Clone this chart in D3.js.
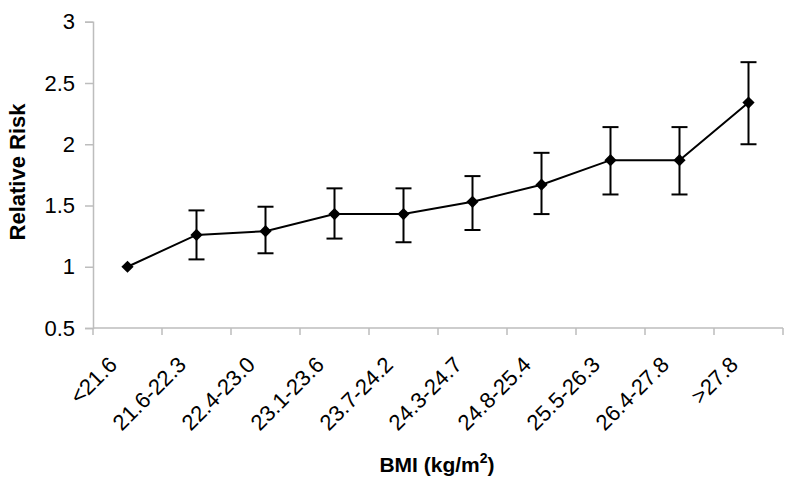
<!DOCTYPE html>
<html>
<head>
<meta charset="utf-8">
<script src="https://cdn.jsdelivr.net/npm/d3@7"></script>
<style>
  html, body { margin: 0; padding: 0; background: #fff; }
  svg { display: block; font-family: "Liberation Sans", Arial, sans-serif; }
</style>
</head>
<body>
<svg id="chart" width="800" height="486"></svg>
<script>
const categories = ["<21.6", "21.6-22.3", "22.4-23.0", "23.1-23.6", "23.7-24.2", "24.3-24.7", "24.8-25.4", "25.5-26.3", "26.4-27.8", ">27.8"];
const relativeRisk = [1.00, 1.26, 1.29, 1.43, 1.43, 1.53, 1.67, 1.87, 1.87, 2.34];
const lowerCI = [1.00, 1.06, 1.11, 1.23, 1.20, 1.30, 1.43, 1.59, 1.59, 2.00];
const upperCI = [1.00, 1.46, 1.49, 1.64, 1.64, 1.74, 1.93, 2.14, 2.14, 2.67];
const yTicks = [0.5, 1, 1.5, 2, 2.5, 3];
const yTitle = "Relative Risk";
const xTitle = "BMI (kg/m";

const svg = d3.select("#chart");
const mLeft = 93, mRight = 783, mTop = 21.75, mBottom = 328;
const axisColor = "#bdbdbd";

const x = d3.scaleBand().domain(categories).range([mLeft, mRight]).padding(0);
const y = d3.scaleLinear().domain([0.5, 3]).range([mBottom, mTop]);
const cx = c => x(c) + x.bandwidth() / 2;

// Y axis
const yAxis = svg.append("g")
  .attr("transform", `translate(${mLeft},0)`)
  .call(d3.axisLeft(y).tickValues(yTicks).tickSize(8).tickPadding(10).tickFormat(d => String(d)));
yAxis.select(".domain").attr("stroke", axisColor).attr("stroke-width", 1.5);
yAxis.selectAll(".tick line").attr("stroke", axisColor).attr("stroke-width", 1.5);
yAxis.selectAll(".tick text").attr("fill", "#000").attr("font-size", 22)
  .attr("font-family", "'Liberation Sans', Arial, sans-serif");

// X axis line
svg.append("line")
  .attr("x1", mLeft).attr("x2", mRight).attr("y1", mBottom).attr("y2", mBottom)
  .attr("stroke", axisColor).attr("stroke-width", 1.5);
// X boundary ticks
const bounds = categories.map(c => x(c)).concat([x(categories[categories.length - 1]) + x.bandwidth()]);
svg.append("g").selectAll("line").data(bounds).join("line")
  .attr("x1", d => d).attr("x2", d => d)
  .attr("y1", mBottom).attr("y2", mBottom + 7)
  .attr("stroke", axisColor).attr("stroke-width", 1.5);
// X labels
svg.append("g").selectAll("text").data(categories).join("text")
  .attr("transform", d => `translate(${cx(d) - 9},${mBottom + 38}) rotate(-45)`)
  .attr("text-anchor", "end")
  .attr("font-size", 22)
  .attr("fill", "#000")
  .text(d => d);

// Error bars
const eb = svg.append("g").attr("stroke", "#000").attr("stroke-width", 2);
categories.forEach((c, i) => {
  if (upperCI[i] === lowerCI[i]) return;
  const xc = cx(c);
  eb.append("line").attr("x1", xc).attr("x2", xc).attr("y1", y(lowerCI[i])).attr("y2", y(upperCI[i]));
  eb.append("line").attr("x1", xc - 8).attr("x2", xc + 8).attr("y1", y(lowerCI[i])).attr("y2", y(lowerCI[i]));
  eb.append("line").attr("x1", xc - 8).attr("x2", xc + 8).attr("y1", y(upperCI[i])).attr("y2", y(upperCI[i]));
});

// Line
const line = d3.line().x((d, i) => cx(categories[i])).y(d => y(d));
svg.append("path").datum(relativeRisk)
  .attr("d", line).attr("fill", "none").attr("stroke", "#000").attr("stroke-width", 2);

// Diamond markers
svg.append("g").selectAll("path").data(relativeRisk).join("path")
  .attr("d", d3.symbol().type(d3.symbolDiamond2).size(95))
  .attr("transform", (d, i) => `translate(${cx(categories[i])},${y(d)})`)
  .attr("fill", "#000");

// Axis titles
svg.append("text")
  .attr("transform", `translate(25,172) rotate(-90)`)
  .attr("text-anchor", "middle")
  .attr("font-size", 22).attr("font-weight", "bold")
  .text(yTitle);

const xt = svg.append("text")
  .attr("x", 437).attr("y", 472)
  .attr("text-anchor", "middle")
  .attr("font-size", 21).attr("font-weight", "bold");
xt.append("tspan").text(xTitle);
xt.append("tspan").attr("font-size", 14).attr("dy", -9).text("2");
xt.append("tspan").attr("dy", 9).text(")");
</script>
</body>
</html>
